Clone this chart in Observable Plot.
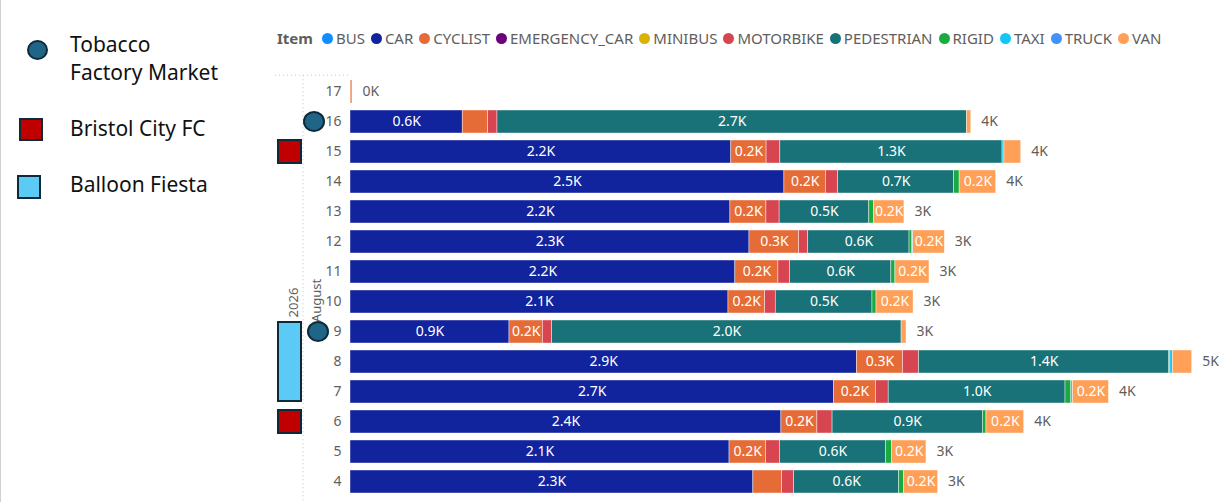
<!DOCTYPE html>
<html>
<head>
<meta charset="utf-8">
<script src="https://cdn.jsdelivr.net/npm/d3@7"></script>
<script src="https://cdn.jsdelivr.net/npm/@observablehq/plot@0.6"></script>
<style>
  html, body { margin: 0; padding: 0; background: #fff; }
  #root { position: relative; width: 1227px; height: 502px; overflow: hidden; font-family: "Noto Sans", sans-serif; }
  #chart { position: absolute; left: 0; top: 0; }
  #legend { position: absolute; left: 277px; top: 28px; display: flex; align-items: center; font-size: 15px; color: #605E5C; white-space: nowrap; }
  #legend .title { font-weight: bold; margin-right: 9px; }
  #legend .it { display: flex; align-items: center; margin-right: 6px; }
  #legend .dot { width: 11px; height: 11px; border-radius: 50%; margin-right: 3px; }
  .ann { position: absolute; font-size: 21px; color: #111; line-height: 28px; }
  .shape { position: absolute; box-sizing: border-box; border: 2px solid #0E2A3A; }
  #edge { position: absolute; left: 0; top: 0; width: 1px; height: 502px; background: #d0d0d0; }
</style>
</head>
<body>
<div id="root">
  <div id="edge"></div>
  <div id="chart"></div>
  <div id="legend"></div>
  <div class="shape" style="left:27px;top:40px;width:21px;height:20px;border-radius:50%;background:#1F6587;"></div>
  <div class="ann" style="left:70px;top:30px;">Tobacco<br>Factory Market</div>
  <div class="shape" style="left:19px;top:118px;width:24px;height:23px;background:#C00000;"></div>
  <div class="ann" style="left:70px;top:114px;">Bristol City FC</div>
  <div class="shape" style="left:17px;top:175px;width:24px;height:24px;background:#5BCBF5;"></div>
  <div class="ann" style="left:70px;top:170px;">Balloon Fiesta</div>
</div>
<script>
// ---- data ----
const days = [17, 16, 15, 14, 13, 12, 11, 10, 9, 8, 7, 6, 5, 4];
const items = ["BUS", "CAR", "CYCLIST", "EMERGENCY_CAR", "MINIBUS", "MOTORBIKE", "PEDESTRIAN", "RIGID", "TAXI", "TRUCK", "VAN"];
const itemColors = ["#118DFF", "#12239E", "#E66C37", "#6B007B", "#D9B300", "#D64550", "#197278", "#1AAB40", "#15C6F4", "#4092FF", "#FFA058"];

const BUS           = [0, 0, 0, 0, 0, 0, 0, 0, 0, 0, 0, 0, 0, 0];
const CAR           = [0, 636, 2158, 2459, 2153, 2261, 2181, 2142, 901, 2870, 2739, 2442, 2148, 2283];
const CYCLIST       = [6, 144, 200, 235, 204, 282, 244, 208, 189, 261, 239, 204, 207, 163];
const EMERGENCY_CAR = [0, 0, 0, 0, 0, 0, 0, 0, 0, 0, 0, 0, 0, 0];
const MINIBUS       = [0, 0, 0, 0, 0, 0, 0, 0, 0, 0, 0, 0, 0, 0];
const MOTORBIKE     = [5, 53, 78, 70, 75, 51, 66, 60, 53, 91, 72, 86, 79, 68];
const PEDESTRIAN    = [0, 2661, 1259, 657, 508, 574, 574, 548, 1980, 1418, 1002, 852, 601, 595];
const RIGID         = [0, 0, 0, 31, 27, 16, 23, 23, 0, 6, 33, 20, 34, 28];
const TAXI          = [0, 0, 11, 0, 0, 5, 0, 0, 0, 14, 9, 0, 0, 0];
const TRUCK         = [0, 0, 0, 0, 0, 0, 0, 0, 0, 0, 0, 0, 0, 0];
const VAN           = [0, 24, 95, 207, 172, 179, 193, 210, 28, 110, 204, 214, 195, 193];

const yearLabel = "2026";
const monthLabel = "August";
const tobaccoDays = [16, 9];
const bristolDays = [15, 6];
const balloonDays = [9, 8, 7];

// ---- build table ----
const series = {BUS, CAR, CYCLIST, EMERGENCY_CAR, MINIBUS, MOTORBIKE, PEDESTRIAN, RIGID, TAXI, TRUCK, VAN};
const rows = [];
days.forEach((day, i) => {
  items.forEach(item => {
    const v = series[item][i];
    if (v > 0) rows.push({day, item, value: v});
  });
});
const totals = days.map((day, i) => ({day, total: items.reduce((s, it) => s + series[it][i], 0)}));

const fmtK = v => (v / 1000).toFixed(1) + "K";

const plot = Plot.plot({
  width: 1227,
  height: 502,
  marginLeft: 350,
  marginRight: 30,
  marginTop: 73,
  marginBottom: 3,
  style: {fontFamily: "Noto Sans, sans-serif", fontSize: "14px", color: "#605E5C", background: "transparent"},
  x: {domain: [0, 4800], axis: null},
  y: {type: "band", domain: days, paddingInner: 0.25, paddingOuter: 0.125, label: null},
  color: {domain: items, range: itemColors},
  marks: [
    Plot.barX(rows, Plot.stackX({x: "value", y: "day", fill: "item", z: "item", stroke: "white", strokeWidth: 0.6, strokeOpacity: 0.7, inset: 0})),
    Plot.text(rows, Plot.stackX({x: "value", y: "day", z: "item", text: d => d.value >= 170 ? fmtK(d.value) : null, fill: "white", fontSize: 14})),
    Plot.text(totals, {x: "total", y: "day", text: d => Math.round(d.total / 1000) + "K", dx: 10, textAnchor: "start", fill: "#605E5C", fontSize: 14}),
    Plot.axisY({tickSize: 0, tickPadding: 9, fontSize: 14, color: "#605E5C", label: null})
  ]
});
document.getElementById("chart").appendChild(plot);

// ---- hierarchy axis decorations & event markers via y scale ----
const ys = plot.scale("y");
const bw = ys.bandwidth;
const svg = d3.select(plot);
const axisTop = ys.apply(days[0]) - ys.step * 0.125 - 1;
svg.append("line").attr("x1", 275).attr("x2", 348).attr("y1", axisTop).attr("y2", axisTop)
  .attr("stroke", "#C8C6C4").attr("stroke-dasharray", "1,3");
svg.append("line").attr("x1", 303).attr("x2", 303).attr("y1", axisTop).attr("y2", 502)
  .attr("stroke", "#C8C6C4").attr("stroke-dasharray", "1,3");

const midY = (ys.apply(days[0]) + ys.apply(days[days.length - 1]) + bw) / 2;
svg.append("text").attr("transform", `translate(298,${midY + 16}) rotate(-90)`)
  .attr("text-anchor", "middle").attr("fill", "#605E5C").attr("font-size", 13).text(yearLabel);
svg.append("text").attr("transform", `translate(321,${midY + 14}) rotate(-90)`)
  .attr("text-anchor", "middle").attr("fill", "#605E5C").attr("font-size", 13).text(monthLabel);

// Balloon Fiesta span
const bTop = d3.min(balloonDays, d => ys.apply(d)) + 2;
const bBot = d3.max(balloonDays, d => ys.apply(d)) + bw - 2;
svg.append("rect").attr("x", 278).attr("y", bTop).attr("width", 23).attr("height", bBot - bTop)
  .attr("fill", "#5BCBF5").attr("stroke", "#0E2A3A").attr("stroke-width", 2);
// Bristol City FC
bristolDays.forEach(d => {
  svg.append("rect").attr("x", 278).attr("y", ys.apply(d)).attr("width", 23).attr("height", bw)
    .attr("fill", "#C00000").attr("stroke", "#0E2A3A").attr("stroke-width", 2);
});
// Tobacco Factory Market
tobaccoDays.forEach((d, i) => {
  svg.append("ellipse").attr("cx", i === 0 ? 314 : 318).attr("cy", ys.apply(d) + bw / 2)
    .attr("rx", 10).attr("ry", 9.5)
    .attr("fill", "#1F6587").attr("stroke", "#0E2A3A").attr("stroke-width", 2);
});

// ---- item legend ----
const lg = document.getElementById("legend");
const t = document.createElement("span"); t.className = "title"; t.textContent = "Item"; lg.appendChild(t);
items.forEach((it, i) => {
  const s = document.createElement("span"); s.className = "it";
  const dot = document.createElement("span"); dot.className = "dot"; dot.style.background = itemColors[i];
  s.appendChild(dot);
  s.appendChild(document.createTextNode(it));
  lg.appendChild(s);
});
</script>
</body>
</html>
